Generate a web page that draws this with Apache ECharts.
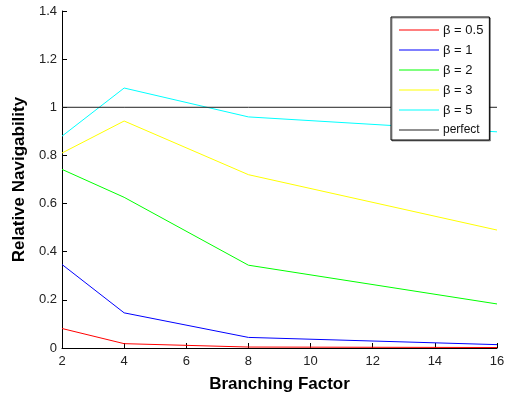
<!DOCTYPE html>
<html>
<head>
<meta charset="utf-8">
<script src="https://cdn.jsdelivr.net/npm/echarts@6/dist/echarts.min.js"></script>
<style>
  html, body { margin: 0; padding: 0; background: #fff; }
  #main { width: 508px; height: 398px; }
</style>
</head>
<body>
<div id="main"></div>
<script>
// branching factors
const branching = [2, 4, 8, 16];
// relative navigability for each beta
const beta05 = [0.081, 0.018, 0.004, 0.002];
const beta1 = [0.347, 0.146, 0.044, 0.014];
const beta2 = [0.742, 0.626, 0.344, 0.183];
const beta3 = [0.81, 0.943, 0.72, 0.49];
const beta5 = [0.88, 1.08, 0.96, 0.898];
const perfect = [1, 1, 1, 1];

const names = ['β = 0.5', 'β = 1', 'β = 2', 'β = 3', 'β = 5', 'perfect'];
const colors = ['#ff0000', '#0000ff', '#00ff00', '#ffff00', '#00ffff', '#222222'];
const values = [beta05, beta1, beta2, beta3, beta5, perfect];

var myChart = echarts.init(document.getElementById('main'));

const font = 'Arial, "Liberation Sans", Helvetica, sans-serif';

const series = values.map((vals, i) => ({
    name: names[i],
    type: 'line',
    symbol: 'none',
    animation: false,
    lineStyle: { color: colors[i], width: 1 },
    itemStyle: { color: colors[i] },
    data: branching.map((b, j) => [b, vals[j]])
}));

myChart.setOption({
    animation: false,
    grid: { left: 62, right: 11, top: 11, bottom: 45 },
    legend: {
        orient: 'vertical',
        left: 391,
        top: 17,
        width: 100,
        padding: [6, 6, 3, 8],
        icon: 'rect',
        itemWidth: 40,
        itemHeight: 1,
        itemGap: 6,
        backgroundColor: '#fff',
        borderColor: '#000',
        borderWidth: 1,
        shadowColor: 'rgba(0,0,0,0.4)',
        shadowOffsetX: 1,
        shadowOffsetY: 1,
        textStyle: { fontSize: 13, lineHeight: 14, height: 14, fontFamily: font, color: '#111', padding: [0, 0, 0, -1] },
        data: names.map(n => n === 'perfect' ? { name: n, textStyle: { fontSize: 12 } } : n)
    },
    xAxis: {
        type: 'value',
        min: 2,
        max: 16,
        interval: 2,
        name: 'Branching Factor',
        nameLocation: 'middle',
        nameGap: 28,
        nameTextStyle: { fontSize: 17, fontWeight: 'bold', fontFamily: font, color: '#000' },
        axisLine: { lineStyle: { color: '#000', width: 1 } },
        axisTick: { inside: true, length: 5, lineStyle: { color: '#000' } },
        axisLabel: { fontSize: 13, fontFamily: font, color: '#222', margin: 7 },
        splitLine: { show: false }
    },
    yAxis: {
        type: 'value',
        min: 0,
        max: 1.4,
        interval: 0.2,
        name: 'Relative Navigability',
        nameLocation: 'middle',
        nameGap: 29,
        nameTextStyle: { fontSize: 17, fontWeight: 'bold', fontFamily: font, color: '#000' },
        axisLine: { show: true, lineStyle: { color: '#000', width: 1 } },
        axisTick: { show: true, inside: true, length: 5, lineStyle: { color: '#000' } },
        axisLabel: { fontSize: 13, fontFamily: font, color: '#222', margin: 5 },
        splitLine: { show: false }
    },
    series: series
});
</script>
</body>
</html>
